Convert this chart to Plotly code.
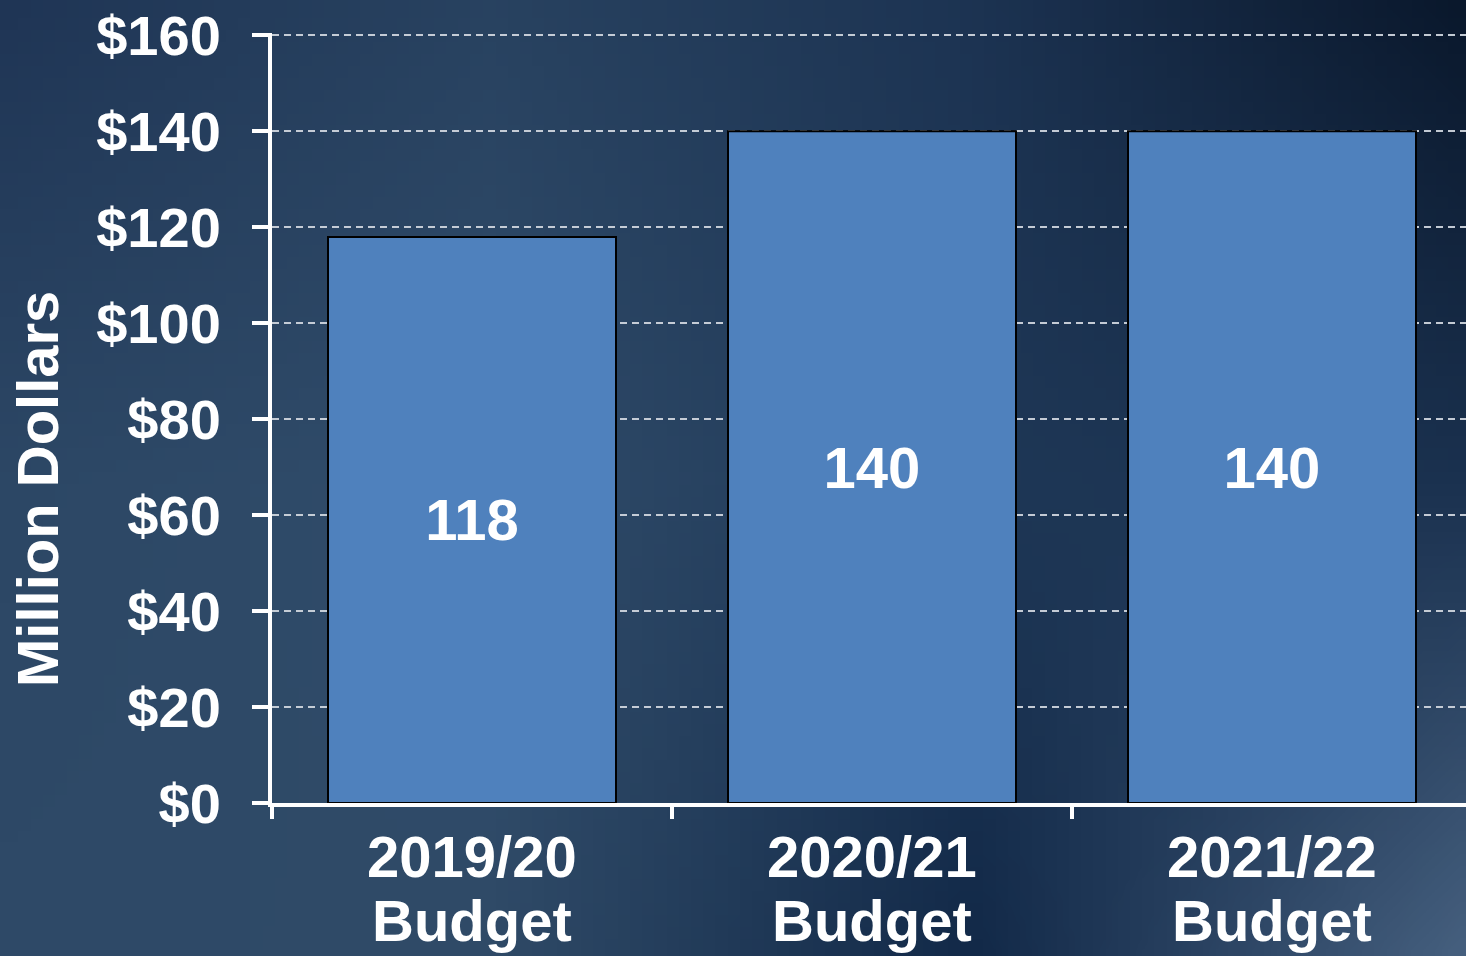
import base64, struct, zlib
import plotly.graph_objects as go

# ---- data ----
years = ["2019/20", "2020/21", "2021/22"]
sublabel = "Budget"
values = [118, 140, 140]
y_ticks = [0, 20, 40, 60, 80, 100, 120, 140, 160]
y_ticktext = ["$" + str(v) for v in y_ticks]
y_title = "Million Dollars"

# ---- background gradient (decorative) ----
ctrl = [
    [(0x1f, 0x35, 0x55), (0x28, 0x42, 0x60), (0x1c, 0x33, 0x52), (0x0a, 0x18, 0x2c)],
    [(0x2c, 0x47, 0x65), (0x30, 0x4c, 0x6a), (0x1e, 0x37, 0x56), (0x1a, 0x31, 0x4f)],
    [(0x2e, 0x49, 0x67), (0x2f, 0x4a, 0x67), (0x12, 0x29, 0x48), (0x45, 0x5f, 0x7e)],
]


def make_png(w, h):
    rows = []
    nr, nc = len(ctrl), len(ctrl[0])
    for j in range(h):
        fy = j / (h - 1) * (nr - 1)
        r0 = min(int(fy), nr - 2)
        ty = fy - r0
        row = bytearray([0])
        for i in range(w):
            fx = i / (w - 1) * (nc - 1)
            c0 = min(int(fx), nc - 2)
            tx = fx - c0
            px = []
            for k in range(3):
                a = ctrl[r0][c0][k] * (1 - tx) + ctrl[r0][c0 + 1][k] * tx
                b = ctrl[r0 + 1][c0][k] * (1 - tx) + ctrl[r0 + 1][c0 + 1][k] * tx
                px.append(int(round(a * (1 - ty) + b * ty)))
            row.extend(px)
        rows.append(bytes(row))
    raw = b"".join(rows)

    def chunk(tag, data):
        c = struct.pack(">I", len(data)) + tag + data
        return c + struct.pack(">I", zlib.crc32(tag + data) & 0xFFFFFFFF)

    png = b"\x89PNG\r\n\x1a\n"
    png += chunk(b"IHDR", struct.pack(">IIBBBBB", w, h, 8, 2, 0, 0, 0))
    png += chunk(b"IDAT", zlib.compress(raw, 9))
    png += chunk(b"IEND", b"")
    return "data:image/png;base64," + base64.b64encode(png).decode()


bg = make_png(120, 80)

W, H = 1466, 956
ML, MR, MT, MB = 272, 0, 33, 153
pw, ph = W - ML - MR, H - MT - MB

FONT = dict(family="Liberation Sans, Arial, sans-serif", color="white", weight="bold")

fig = go.Figure()
fig.add_trace(go.Bar(
    x=years,
    y=values,
    width=0.72,
    marker=dict(color="#4f81bd", line=dict(color="black", width=2)),
    text=[str(v) for v in values],
    textposition="inside",
    insidetextanchor="middle",
    textangle=0,
    textfont=dict(**FONT, size=58),
    cliponaxis=False,
))

annotations = [dict(
    text=y_title, textangle=-90, showarrow=False,
    xref="paper", yref="paper",
    x=(37 - ML) / pw, y=(H - MB - 489) / ph,
    xanchor="center", yanchor="middle",
    font=dict(**FONT, size=58),
)]
for yr in years:
    annotations.append(dict(
        text=yr, x=yr, xref="x", yref="paper", y=(H - MB - 857) / ph,
        xanchor="center", yanchor="middle", showarrow=False,
        font=dict(**FONT, size=58),
    ))
    annotations.append(dict(
        text=sublabel, x=yr, xref="x", yref="paper", y=(H - MB - 920) / ph,
        xanchor="center", yanchor="middle", showarrow=False,
        font=dict(**FONT, size=58),
    ))

fig.update_layout(
    width=W, height=H,
    margin=dict(l=ML, r=MR, t=MT, b=MB, pad=0),
    paper_bgcolor="#233d5c",
    plot_bgcolor="rgba(0,0,0,0)",
    showlegend=False,
    images=[dict(
        source=bg, xref="paper", yref="paper",
        x=-ML / pw, y=1 + MT / ph, sizex=W / pw, sizey=H / ph,
        xanchor="left", yanchor="top", sizing="stretch", layer="below",
    )],
    xaxis=dict(
        range=[-0.5, -0.5 + pw / 400],
        showline=True, linecolor="white", linewidth=4,
        ticks="outside", tickson="boundaries", ticklen=12, tickwidth=4, tickcolor="white",
        showticklabels=False,
        showgrid=False, zeroline=False,
    ),
    yaxis=dict(
        range=[0, 160.5],
        tickvals=y_ticks,
        ticktext=y_ticktext,
        showline=True, linecolor="white", linewidth=4,
        ticks="outside", ticklen=16, tickwidth=4, tickcolor="white",
        tickfont=dict(**FONT, size=56),
        ticklabelstandoff=20,
        showgrid=True, gridcolor="rgba(205,212,220,0.95)", gridwidth=2, griddash="7px,5px",
        zeroline=False,
    ),
    annotations=annotations,
)

fig.write_html(
    "out.html",
    config={"displayModeBar": False},
    post_script="document.body.style.margin='0';document.body.style.overflow='hidden';",
)
